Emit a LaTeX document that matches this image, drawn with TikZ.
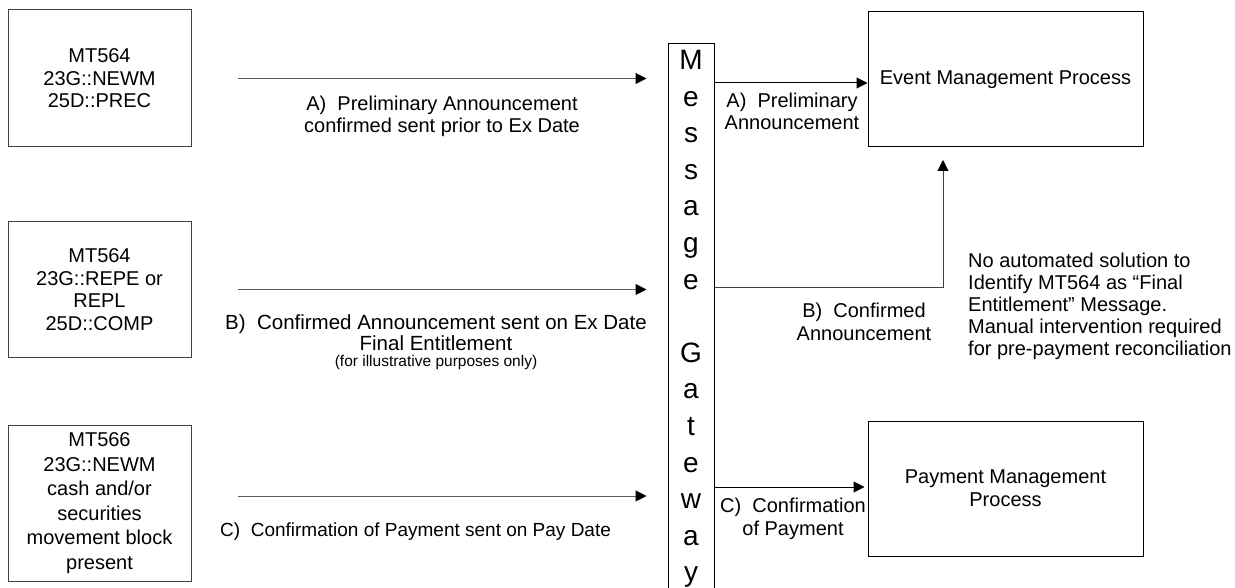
\documentclass[tikz,border=0pt]{standalone}
\usepackage{fontspec}
\setmainfont{Liberation Sans}
\usetikzlibrary{arrows.meta}

\begin{document}
\begin{tikzpicture}[x=1pt,y=-1pt,
  >={Triangle[length=11pt,width=11pt,color=black]},
  msgbox/.style={draw=black!75,line width=1pt,minimum width=183pt,inner sep=0pt,align=center,font=\fontsize{20}{22.5}\selectfont},
  procbox/.style={draw,line width=1pt,minimum width=275pt,minimum height=135pt,inner sep=0pt,align=center,font=\fontsize{20}{23}\selectfont},
  lbl/.style={inner sep=0pt,align=center,font=\fontsize{20}{22}\selectfont},
  flow/.style={->,draw=black!65,line width=1pt}]
  \useasboundingbox (0,0) rectangle (1235,588);
  % messages
  \node[msgbox,minimum height=137pt] (newm) at (99.5,78.5) {MT564\\23G::NEWM\\25D::PREC};
  \node[msgbox,minimum height=135pt] (comp) at (99.5,289.5) {MT564\\23G::REPE or\\REPL\\25D::COMP};
  \node[msgbox,minimum height=156pt,font=\fontsize{20}{24.5}\selectfont] (pay) at (99.5,503) {MT566\\23G::NEWM\\cash and/or\\securities\\movement block\\present};
  % gateway
  \node[draw,line width=1pt,minimum width=46pt,minimum height=580pt,anchor=north] (gw) at (691,43) {};
  \node[inner sep=0pt,align=center,font=\fontsize{28}{36.6}\selectfont] (gwname) at (691,319)
    {M\\e\\s\\s\\a\\g\\e\\\mbox{}\\G\\a\\t\\e\\w\\a\\y};
  \draw[flow,shorten <=46pt,shorten >=21pt] (newm.east) -- (newm.east -| gw.west);
  \draw[flow,shorten <=46pt,shorten >=21pt] (comp.east) -- (comp.east -| gw.west);
  \draw[flow,shorten <=46pt,shorten >=21pt] ([yshift=7pt]pay.east) -- ([yshift=7pt]pay.east -| gw.west);
  \node[lbl] (newmtxt) at (442,116) {A)\ \ Preliminary Announcement\\confirmed sent prior to Ex Date};
  \node[lbl,font=\fontsize{20.5}{21}\selectfont] (comptxt) at (436,332.5) {B)\ \ Confirmed Announcement sent on Ex Date\\Final Entitlement};
  \node[lbl,font=\fontsize{15.5}{17}\selectfont] (compnote) at (436,362) {(for illustrative purposes only)};
  \node[lbl,font=\fontsize{19}{22}\selectfont,anchor=west] (paytxt) at (220,532) {C)\ \ Confirmation of Payment sent on Pay Date};
  % processes
  \node[procbox] (evt) at (1005.5,79.5) {Event Management Process};
  \node[procbox] (pmp) at (1005.5,488.5) {Payment Management\\Process};
  \coordinate (aend) at ([yshift=-3.5pt]evt.west);
  \coordinate (bhead) at (943,160);
  \draw[->,line width=1pt] (gw.east |- aend) -- (aend);
  \draw[flow,draw=black!75] (gw.east |- 0,288) -| (bhead);
  \draw[->,line width=1pt,shorten >=3pt] (gw.east |- 0,487) -- (pmp.west |- 0,487);
  \node[lbl] (atxt) at (792,111) {A)\ \ Preliminary\\Announcement};
  \node[lbl,font=\fontsize{20}{23}\selectfont] (btxt) at (864,321.5) {B)\ \ Confirmed\\Announcement};
  \node[lbl,font=\fontsize{20}{23}\selectfont] (ctxt) at (793,518.5) {C)\ \ Confirmation\\of Payment};
  \node[lbl,align=left,anchor=west] (gap) at (968,306.5) {No automated solution to\\Identify MT564 as “Final\\Entitlement” Message.\\Manual intervention required\\for pre-payment reconciliation};
\end{tikzpicture}
\end{document}
